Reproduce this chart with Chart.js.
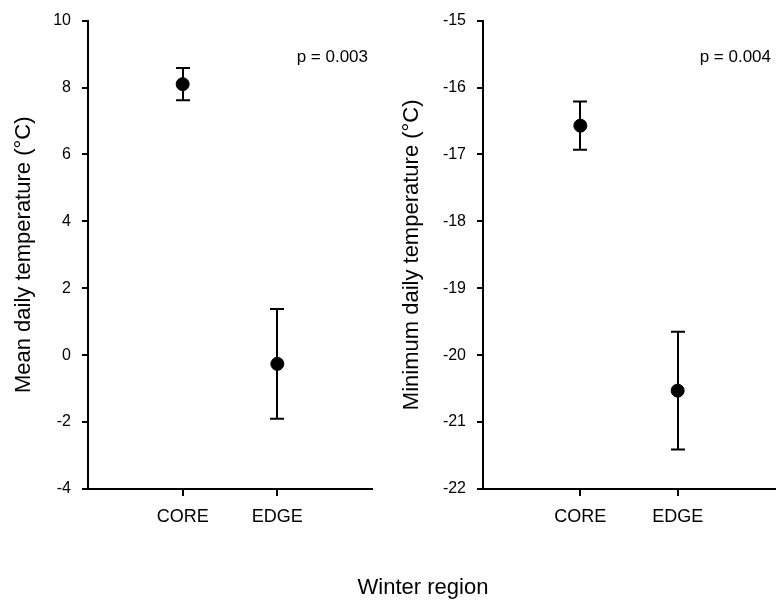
<!DOCTYPE html>
<html>
<head>
<meta charset="utf-8">
<script src="https://cdn.jsdelivr.net/npm/chart.js@4.4.1/dist/chart.umd.min.js"></script>
<style>
  body { margin: 0; background: #fff; }
  #wrap { position: relative; width: 777px; height: 602px; overflow: hidden; }
  canvas { position: absolute; top: 0; }
  #left { left: 0; }
  #right { left: 390px; }
  #xtitle {
    position: absolute; left: 273px; width: 300px; top: 574px;
    text-align: center; line-height: 26px; color: #000;
    font: 22px "Liberation Sans", Arial, sans-serif;
  }
</style>
</head>
<body>
<div id="wrap">
  <canvas id="left" width="390" height="602"></canvas>
  <canvas id="right" width="387" height="602"></canvas>
  <div id="xtitle">Winter region</div>
</div>
<script>
// winter regions on the x axis
const regions = ['CORE', 'EDGE'];

// mean daily temperature, with error bar half-widths
const meanTemp = [8.1, -0.26];
const meanTempErr = [0.48, 1.64];

// minimum daily temperature, with error bar half-widths
const minTemp = [-16.57, -20.53];
const minTempErr = [0.36, 0.88];

// p values printed in the top right of each panel
const pValues = ['0.003', '0.004'];

const FONT = '"Liberation Sans", Arial, sans-serif';

// vertical error bars with caps, drawn under the points
const errorBars = {
  id: 'errorBars',
  beforeDatasetsDraw(chart) {
    const ctx = chart.ctx;
    const xs = chart.scales.x, ys = chart.scales.y;
    ctx.save();
    ctx.strokeStyle = '#000';
    ctx.lineWidth = 2;
    chart.data.datasets.forEach(ds => {
      ds.data.forEach((pt, i) => {
        const e = ds.errors[i];
        const x = Math.round(xs.getPixelForValue(pt.x));
        const top = ys.getPixelForValue(pt.y + e);
        const bot = ys.getPixelForValue(pt.y - e);
        ctx.beginPath();
        ctx.moveTo(x, top); ctx.lineTo(x, bot);
        ctx.moveTo(x - 7, top); ctx.lineTo(x + 7, top);
        ctx.moveTo(x - 7, bot); ctx.lineTo(x + 7, bot);
        ctx.stroke();
      });
    });
    ctx.restore();
  }
};

// p value text in the corner of the plot area
const pLabel = {
  id: 'pLabel',
  afterDraw(chart, args, opts) {
    const ctx = chart.ctx;
    ctx.save();
    ctx.fillStyle = '#000';
    ctx.font = '17px ' + FONT;
    ctx.textAlign = 'right';
    ctx.textBaseline = 'alphabetic';
    ctx.fillText('p = ' + opts.value, chart.chartArea.right - 4, 62);
    ctx.restore();
  }
};

function panel(id, values, errors, yMin, yMax, step, yTitle, p, yWidth, padRight, titlePad) {
  return new Chart(document.getElementById(id), {
    type: 'scatter',
    data: {
      datasets: [{
        data: values.map((v, i) => ({ x: i + 1, y: v })),
        errors: errors,
        backgroundColor: '#000',
        borderColor: '#000',
        pointRadius: 6.5,
        pointHoverRadius: 6.5
      }]
    },
    options: {
      responsive: false,
      animation: false,
      events: [],
      layout: { autoPadding: false, padding: { top: 18, right: padRight, bottom: 0, left: 0 } },
      plugins: {
        legend: { display: false },
        tooltip: { enabled: false },
        pLabel: { value: p }
      },
      scales: {
        x: {
          type: 'linear',
          min: 0,
          max: regions.length + 1,
          afterBuildTicks: s => { s.ticks = regions.map((r, i) => ({ value: i + 1 })); },
          afterFit: s => { s.height = 113; },
          grid: { drawOnChartArea: false, drawTicks: true, tickLength: 7, color: '#000', lineWidth: 2 },
          border: { color: '#000', width: 2 },
          ticks: {
            color: '#000',
            font: { family: FONT, size: 18 },
            padding: 10,
            maxRotation: 0,
            autoSkip: false,
            callback: v => regions[v - 1] || ''
          }
        },
        y: {
          min: yMin,
          max: yMax,
          afterFit: s => { s.width = yWidth; },
          grid: { drawOnChartArea: false, drawTicks: true, tickLength: 6, color: '#000', lineWidth: 2 },
          border: { color: '#000', width: 2 },
          ticks: { stepSize: step, color: '#000', font: { family: FONT, size: 16 }, padding: 11 },
          title: {
            display: true,
            text: yTitle,
            color: '#000',
            font: { family: FONT, size: 22 },
            padding: { top: titlePad, bottom: 0 }
          }
        }
      }
    },
    plugins: [errorBars, pLabel]
  });
}

panel('left', meanTemp, meanTempErr, -4, 10, 2,
  'Mean daily temperature (°C)', pValues[0], 88, 18, 11);
panel('right', minTemp, minTempErr, -22, -15, 1,
  'Minimum daily temperature (°C)', pValues[1], 93, 2, 9);
</script>
</body>
</html>
